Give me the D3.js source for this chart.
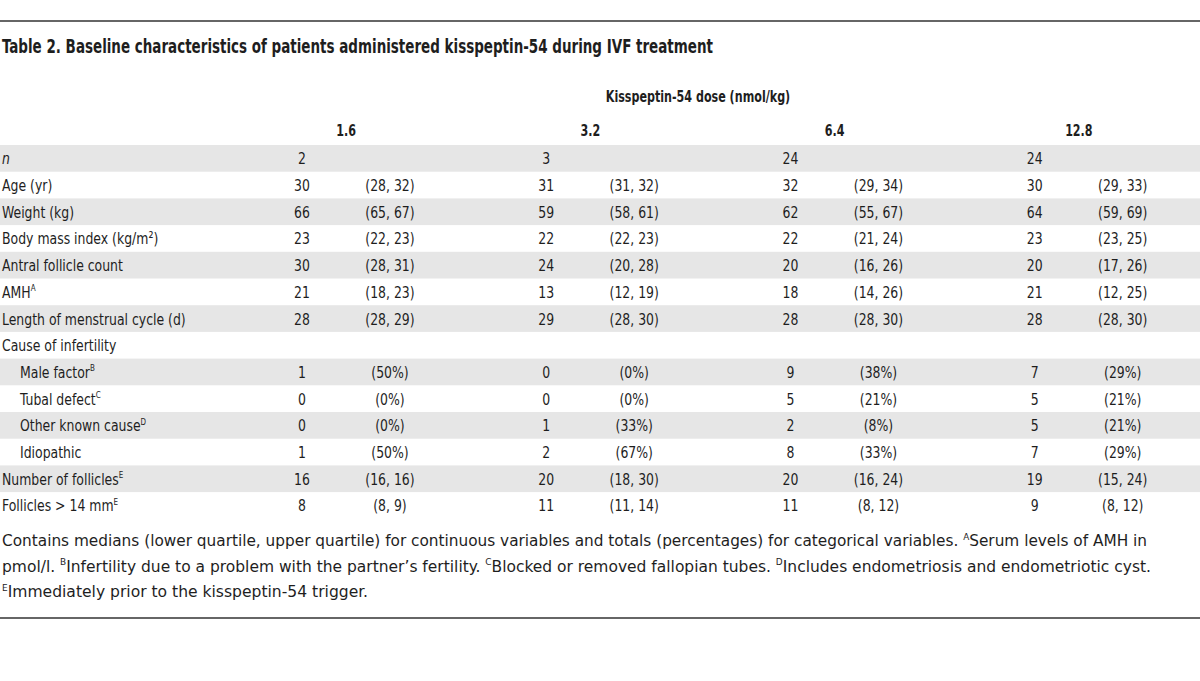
<!DOCTYPE html>
<html><head><meta charset="utf-8">
<script src="https://cdn.jsdelivr.net/npm/d3@7"></script>
<style>
html,body{margin:0;padding:0;background:#fff;}
svg{display:block;}
text{font-family:"Liberation Sans Narrow","DejaVu Sans Condensed","Roboto Condensed",sans-serif;fill:#1e1e1e;}
</style></head>
<body><svg id="chart" width="1200" height="681"></svg>
<script>
const titleText = "Table 2. Baseline characteristics of patients administered kisspeptin-54 during IVF treatment";
const spannerText = "Kisspeptin-54 dose (nmol/kg)";
const doses = ["1.6", "3.2", "6.4", "12.8"];
const rowLabels = ["n", "Age (yr)", "Weight (kg)", "Body mass index (kg/m\u00B2)", "Antral follicle count", "AMH",
  "Length of menstrual cycle (d)", "Cause of infertility", "Male factor", "Tubal defect", "Other known cause",
  "Idiopathic", "Number of follicles", "Follicles > 14 mm"];
const rowSup = ["", "", "", "", "", "A", "", "", "B", "C", "D", "", "E", "E"];
const rowIndent = [0, 0, 0, 0, 0, 0, 0, 0, 1, 1, 1, 1, 0, 0];
const rowItalic = [1, 0, 0, 0, 0, 0, 0, 0, 0, 0, 0, 0, 0, 0];
const median16 = ["2", "30", "66", "23", "30", "21", "28", "", "1", "0", "0", "1", "16", "8"];
const range16 = ["", "(28, 32)", "(65, 67)", "(22, 23)", "(28, 31)", "(18, 23)", "(28, 29)", "", "(50%)", "(0%)", "(0%)", "(50%)", "(16, 16)", "(8, 9)"];
const median32 = ["3", "31", "59", "22", "24", "13", "29", "", "0", "0", "1", "2", "20", "11"];
const range32 = ["", "(31, 32)", "(58, 61)", "(22, 23)", "(20, 28)", "(12, 19)", "(28, 30)", "", "(0%)", "(0%)", "(33%)", "(67%)", "(18, 30)", "(11, 14)"];
const median64 = ["24", "32", "62", "22", "20", "18", "28", "", "9", "5", "2", "8", "20", "11"];
const range64 = ["", "(29, 34)", "(55, 67)", "(21, 24)", "(16, 26)", "(14, 26)", "(28, 30)", "", "(38%)", "(21%)", "(8%)", "(33%)", "(16, 24)", "(8, 12)"];
const median128 = ["24", "30", "64", "23", "20", "21", "28", "", "7", "5", "5", "7", "19", "9"];
const range128 = ["", "(29, 33)", "(59, 69)", "(23, 25)", "(17, 26)", "(12, 25)", "(28, 30)", "", "(29%)", "(21%)", "(21%)", "(29%)", "(15, 24)", "(8, 12)"];
const footLines = [
  [["Contains medians (lower quartile, upper quartile) for continuous variables and totals (percentages) for categorical variables. ", ""], ["A", "sup"], ["Serum levels of AMH in", ""]],
  [["pmol/l. ", ""], ["B", "sup"], ["Infertility due to a problem with the partner\u2019s fertility. ", ""], ["C", "sup"], ["Blocked or removed fallopian tubes. ", ""], ["D", "sup"], ["Includes endometriosis and endometriotic cyst.", ""]],
  [["E", "sup"], ["Immediately prior to the kisspeptin-54 trigger.", ""]]
];
const footWidths = [1147, 1151, 368];

const medians = [median16, median32, median64, median128];
const ranges = [range16, range32, range64, range128];

const svg = d3.select("#chart");
const W = 1200;
const sx = 0.84;     // horizontal condensing of the body font
const sxb = 0.75;    // horizontal condensing of the bold header font
const fs = 16.5;
const x = d3.scaleBand().domain(doses).range([224, 1201]);
const y = d3.scaleBand().domain(d3.range(rowLabels.length)).range([145, 145 + 26.7 * rowLabels.length]);

// rules
svg.append("line").attr("x1", 0).attr("x2", W).attr("y1", 21).attr("y2", 21).attr("stroke", "#333").attr("stroke-width", 1.5);
svg.append("line").attr("x1", 0).attr("x2", W).attr("y1", 618).attr("y2", 618).attr("stroke", "#333").attr("stroke-width", 1.5);

// title
svg.append("text").attr("x", 2).attr("y", 53).attr("font-size", 19).attr("font-weight", "bold")
  .attr("textLength", 711).attr("lengthAdjust", "spacingAndGlyphs").text(titleText);

// spanner
svg.append("text").attr("transform", `scale(${sxb},1)`)
  .attr("x", 698 / sxb).attr("y", 102).attr("text-anchor", "middle")
  .attr("font-size", fs).attr("font-weight", "bold").text(spannerText);

// dose headers
svg.selectAll(".dose").data(doses).join("text").attr("class", "dose")
  .attr("transform", `scale(${sxb},1)`)
  .attr("x", d => (x(d) + x.bandwidth() / 2) / sxb).attr("y", 136).attr("text-anchor", "middle")
  .attr("font-size", fs).attr("font-weight", "bold").text(d => d);

// row bands
svg.selectAll(".band").data(d3.range(rowLabels.length).filter(i => i % 2 === 0)).join("rect")
  .attr("x", 0).attr("width", W).attr("y", i => y(i)).attr("height", y.bandwidth()).attr("fill", "#e6e6e6");

const baseY = i => y(i) + y.bandwidth() / 2 + 6;
// labels
const lab = svg.selectAll(".lab").data(d3.range(rowLabels.length)).join("text").attr("class", "lab")
  .attr("transform", `scale(${sx},1)`)
  .attr("x", i => (2 + rowIndent[i] * 18) / sx).attr("y", baseY)
  .attr("font-size", fs).attr("font-style", i => rowItalic[i] ? "italic" : "normal");
lab.append("tspan").text(i => rowLabels[i]);
lab.append("tspan").attr("font-size", 9.5).attr("dy", -6.5).text(i => rowSup[i]);

// values
doses.forEach((d, j) => {
  svg.selectAll(".med" + j).data(d3.range(rowLabels.length)).join("text")
    .attr("transform", `scale(${sx},1)`)
    .attr("x", (x(d) + 78) / sx).attr("y", baseY).attr("text-anchor", "middle")
    .attr("font-size", fs).text(i => medians[j][i]);
  svg.selectAll(".rng" + j).data(d3.range(rowLabels.length)).join("text")
    .attr("transform", `scale(${sx},1)`)
    .attr("x", (x(d) + 166) / sx).attr("y", baseY).attr("text-anchor", "middle")
    .attr("font-size", fs).text(i => ranges[j][i]);
});

// footnotes
footLines.forEach((parts, k) => {
  const t = svg.append("text").attr("x", 2).attr("y", 546 + k * 25.5).attr("font-size", fs)
    .attr("textLength", footWidths[k] - 2).attr("lengthAdjust", "spacingAndGlyphs");
  let prevSup = false;
  parts.forEach(p => {
    if (p[1] === "sup") { t.append("tspan").attr("font-size", 9.5).attr("dy", -6.5).text(p[0]); prevSup = true; }
    else { t.append("tspan").attr("dy", prevSup ? 6.5 : 0).text(p[0]); prevSup = false; }
  });
});
</script></body></html>
